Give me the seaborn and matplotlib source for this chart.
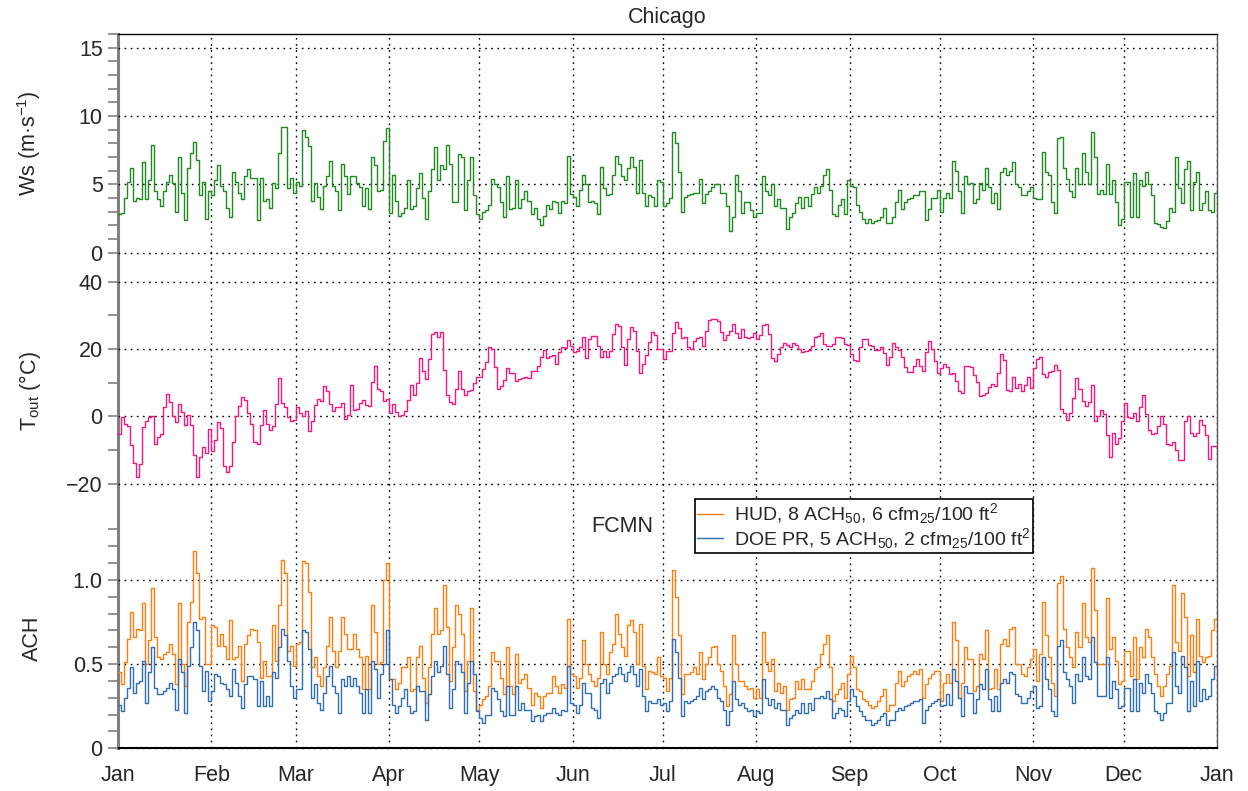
import numpy as np
import seaborn as sns
import matplotlib.pyplot as plt
from matplotlib.ticker import MultipleLocator, FuncFormatter

# --- DATA (daily values, Jan 1 .. Dec 31) ---
month_labels = ['Jan', 'Feb', 'Mar', 'Apr', 'May', 'Jun', 'Jul', 'Aug', 'Sep', 'Oct', 'Nov', 'Dec', 'Jan']
month_starts = [0, 31, 59, 90, 120, 151, 181, 212, 243, 273, 304, 334, 365]

# wind speed, m/s
ws = [
    2.8, 2.9, 4.0, 5.2, 6.2, 3.8, 4.0, 3.9, 6.6, 3.9, 5.3, 7.9, 4.5, 3.9, 3.4, 4.5, 5.2, 5.7, 5.1, 3.0, 7.0, 4.4, 2.4, 6.2, 7.3, 8.1, 6.8, 4.2, 5.2, 2.5, 4.5,
    4.2, 5.3, 6.4, 4.9, 4.5, 3.3, 2.6, 5.9, 5.2, 4.4, 3.9, 5.6, 6.1, 5.5, 5.5, 2.4, 5.5, 3.8, 3.9, 3.3, 5.1, 4.7, 7.3, 9.2, 9.2, 4.7, 5.5, 4.4,
    5.2, 4.9, 9.0, 8.5, 7.8, 3.8, 5.1, 4.1, 3.2, 4.9, 5.6, 6.7, 4.9, 4.5, 3.1, 6.5, 5.6, 4.3, 5.6, 5.6, 5.1, 4.8, 3.4, 4.7, 3.2, 7.0, 6.4, 4.5, 4.6, 8.2, 9.1,
    2.9, 5.7, 3.8, 2.7, 2.9, 3.3, 5.3, 3.2, 3.4, 4.7, 5.8, 4.0, 2.5, 4.5, 6.1, 7.7, 5.3, 6.4, 6.1, 7.9, 6.5, 3.7, 3.7, 7.2, 7.0, 3.1, 5.3, 7.0, 4.2, 2.8,
    2.5, 3.0, 3.1, 3.5, 5.4, 5.0, 4.8, 3.7, 2.6, 5.6, 3.2, 3.3, 5.3, 3.3, 3.9, 4.5, 3.8, 2.8, 3.3, 2.5, 2.0, 2.7, 3.5, 3.2, 3.8, 3.7, 2.9, 3.8, 3.6, 7.1, 4.3,
    4.1, 3.4, 4.6, 5.7, 5.0, 3.7, 3.8, 3.6, 2.8, 6.3, 4.7, 4.2, 4.3, 5.7, 7.1, 6.5, 5.6, 5.3, 6.2, 7.0, 6.3, 4.4, 6.8, 4.4, 3.4, 4.2, 4.1, 3.4, 5.3, 5.2,
    3.4, 3.6, 4.0, 8.8, 8.0, 5.9, 3.0, 4.1, 4.2, 4.3, 4.4, 4.4, 5.4, 3.6, 4.3, 4.5, 4.8, 5.0, 5.0, 4.4, 4.4, 3.4, 1.6, 2.6, 5.7, 4.5, 2.9, 3.7, 3.7, 3.1, 2.6,
    2.9, 2.9, 5.6, 4.5, 4.2, 5.0, 3.4, 3.9, 3.3, 3.3, 1.7, 2.6, 2.9, 3.6, 4.1, 3.3, 4.1, 3.4, 4.3, 4.8, 4.4, 4.9, 5.7, 6.1, 4.6, 2.8, 2.7, 3.5, 3.9, 2.8, 5.3,
    4.9, 4.8, 3.5, 3.0, 2.5, 2.2, 2.5, 2.2, 2.3, 2.4, 2.6, 3.3, 2.2, 2.2, 2.6, 3.7, 4.6, 3.2, 3.7, 3.9, 4.0, 4.2, 4.2, 4.5, 4.5, 2.4, 3.2, 4.0, 4.0, 4.6,
    3.0, 4.0, 4.4, 4.0, 6.7, 6.0, 4.5, 2.9, 5.6, 5.0, 5.1, 3.6, 3.9, 5.1, 4.6, 6.2, 4.8, 3.6, 4.4, 3.2, 5.9, 6.2, 5.7, 6.0, 6.6, 5.0, 4.8, 4.2, 4.2, 4.5, 4.8,
    4.0, 3.9, 3.9, 7.4, 5.9, 5.7, 3.7, 2.9, 8.4, 8.5, 6.2, 5.4, 4.5, 4.1, 6.2, 5.0, 7.3, 5.9, 5.0, 8.8, 7.0, 4.3, 4.6, 4.3, 6.5, 4.3, 5.3, 3.7, 2.0, 2.5,
    5.2, 5.2, 2.6, 5.8, 2.6, 5.3, 4.9, 5.9, 5.0, 4.2, 2.2, 2.1, 1.9, 1.8, 2.3, 3.3, 3.0, 7.0, 4.7, 3.6, 6.1, 6.7, 3.1, 5.2, 5.9, 3.1, 3.6, 4.5, 3.1, 3.0, 4.4,
]

# outdoor temperature, deg C
t_out = [
    -5.3, -0.2, -2.4, -2.9, -8.5, -14.0, -17.9, -14.3, -3.1, -1.5, -0.1, 0.2, -8.2, -6.0, -5.3, 2.7, 6.6, 4.4, 0.2, -1.6, 3.7, 1.2, -2.6, 0.5, -2.6, -11.5, -18.1, -12.2, -9.2, -10.9, -3.9,
    -10.3, -7.0, -1.7, -3.4, -14.7, -16.6, -14.7, -7.6, 0.1, 3.0, 5.8, 4.8, 1.1, -2.4, -7.5, -8.1, -2.5, 1.8, -2.3, -4.2, -2.9, 3.7, 11.3, 4.1, 2.7, -0.3, -1.3, -1.1,
    2.9, 0.9, 0.2, 1.7, -4.3, -1.5, 3.4, 5.3, 4.6, 9.0, 7.5, 3.6, 1.6, 2.8, 2.9, 3.9, -0.8, 0.5, 9.2, 1.9, 2.1, 3.9, 5.0, 3.4, 3.2, 10.1, 15.0, 8.2, 7.6, 4.6, 5.3,
    0.9, 3.7, 1.2, 0.1, 0.3, 1.7, 5.0, 9.4, 6.2, 10.0, 17.4, 13.5, 11.0, 17.0, 24.4, 25.1, 23.6, 25.1, 13.9, 6.3, 4.4, 3.8, 8.0, 13.6, 8.0, 6.3, 7.6, 7.8, 10.0, 11.8,
    11.8, 14.2, 16.0, 20.7, 20.1, 14.8, 8.2, 8.9, 10.8, 14.3, 12.9, 12.8, 10.5, 11.0, 11.5, 11.6, 11.5, 13.5, 13.6, 15.0, 17.7, 19.6, 17.4, 17.9, 18.3, 15.5, 19.0, 20.7, 20.3, 22.7, 20.9,
    19.2, 19.4, 20.5, 23.7, 17.3, 22.9, 23.9, 23.8, 20.9, 17.6, 19.3, 17.5, 19.3, 24.4, 27.3, 26.9, 20.7, 15.2, 22.9, 26.6, 25.5, 19.4, 12.8, 15.5, 18.2, 22.2, 25.0, 24.3, 20.0, 20.0,
    16.9, 19.3, 19.3, 24.9, 28.1, 26.3, 23.4, 23.6, 20.6, 20.1, 22.5, 23.2, 23.7, 21.0, 25.5, 28.7, 29.0, 29.0, 28.4, 25.2, 22.6, 24.3, 25.4, 27.3, 24.7, 23.2, 25.8, 23.7, 23.3, 23.7, 24.9,
    22.9, 24.1, 27.0, 27.3, 24.4, 17.2, 16.5, 18.4, 20.7, 21.7, 21.2, 20.5, 21.7, 21.2, 20.1, 19.2, 19.4, 19.7, 21.0, 23.5, 23.9, 24.7, 21.5, 21.0, 21.0, 21.5, 23.7, 23.7, 23.4, 21.5, 21.2,
    18.5, 16.6, 16.4, 20.5, 23.0, 23.1, 21.1, 21.0, 19.6, 19.6, 20.7, 18.9, 15.3, 17.7, 21.9, 20.7, 19.7, 17.5, 14.8, 13.2, 13.2, 15.0, 16.9, 14.9, 13.6, 19.0, 22.3, 19.9, 16.5, 13.0,
    14.3, 15.5, 14.8, 12.5, 12.8, 10.5, 7.5, 7.0, 15.0, 15.0, 14.6, 12.3, 10.1, 6.0, 6.4, 7.0, 8.6, 9.6, 9.1, 13.0, 18.4, 16.7, 7.7, 7.4, 11.6, 8.3, 9.6, 7.6, 9.4, 11.8, 8.4,
    14.5, 16.9, 17.5, 12.6, 11.8, 13.1, 13.4, 15.2, 13.8, 2.1, 0.9, -1.1, 1.1, 5.5, 11.5, 8.0, 4.6, 3.2, 4.4, 9.4, -1.4, 0.1, 1.9, 0.7, -5.6, -12.0, -5.0, -8.1, -6.3, -1.3,
    3.9, -0.3, -0.6, 0.9, -1.3, 2.9, 6.4, 0.6, -4.1, -5.2, -4.8, -2.8, 0.1, -2.3, -8.2, -8.5, -7.5, -10.0, -13.0, -13.0, -1.4, 0.0, -5.0, -5.7, -4.8, -1.1, -2.6, -5.5, -12.8, -8.7, -8.7,
]

# air changes per hour, HUD envelope
ach_hud = [
    0.45, 0.38, 0.51, 0.65, 0.81, 0.66, 0.71, 0.70, 0.86, 0.50, 0.64, 0.95, 0.66, 0.54, 0.53, 0.56, 0.57, 0.62, 0.56, 0.38, 0.86, 0.50, 0.37, 0.75, 0.87, 1.17, 1.04, 0.77, 0.78, 0.50, 0.50,
    0.73, 0.72, 0.61, 0.68, 0.61, 0.53, 0.76, 0.53, 0.54, 0.61, 0.40, 0.62, 0.67, 0.71, 0.70, 0.63, 0.42, 0.52, 0.43, 0.43, 0.73, 0.52, 0.85, 1.12, 1.04, 0.58, 0.61, 0.49,
    0.62, 0.63, 1.11, 1.10, 0.93, 0.48, 0.54, 0.43, 0.37, 0.48, 0.61, 0.78, 0.58, 0.48, 0.58, 0.78, 0.68, 0.59, 0.59, 0.68, 0.59, 0.54, 0.35, 0.55, 0.35, 0.85, 0.69, 0.50, 0.51, 1.00, 1.10,
    0.41, 0.41, 0.35, 0.39, 0.48, 0.48, 0.54, 0.34, 0.35, 0.54, 0.61, 0.42, 0.27, 0.48, 0.68, 0.83, 0.68, 0.70, 0.97, 0.72, 0.40, 0.60, 0.85, 0.80, 0.68, 0.34, 0.52, 0.83, 0.34, 0.23,
    0.26, 0.29, 0.31, 0.37, 0.57, 0.52, 0.52, 0.42, 0.32, 0.60, 0.37, 0.32, 0.56, 0.39, 0.41, 0.44, 0.36, 0.26, 0.33, 0.31, 0.24, 0.31, 0.33, 0.33, 0.43, 0.37, 0.33, 0.38, 0.36, 0.77, 0.44,
    0.43, 0.36, 0.42, 0.64, 0.50, 0.44, 0.40, 0.37, 0.42, 0.69, 0.50, 0.44, 0.57, 0.62, 0.80, 0.68, 0.60, 0.55, 0.73, 0.76, 0.69, 0.50, 0.74, 0.49, 0.35, 0.46, 0.45, 0.44, 0.54, 0.43,
    0.42, 0.34, 0.42, 1.06, 0.90, 0.67, 0.32, 0.44, 0.44, 0.45, 0.48, 0.44, 0.57, 0.41, 0.50, 0.54, 0.60, 0.61, 0.50, 0.46, 0.37, 0.25, 0.32, 0.67, 0.50, 0.40, 0.40, 0.37, 0.35, 0.36, 0.30,
    0.35, 0.30, 0.69, 0.51, 0.46, 0.53, 0.34, 0.39, 0.33, 0.37, 0.23, 0.29, 0.30, 0.40, 0.35, 0.41, 0.35, 0.35, 0.40, 0.47, 0.48, 0.56, 0.62, 0.67, 0.48, 0.28, 0.32, 0.35, 0.39, 0.30, 0.44,
    0.55, 0.48, 0.35, 0.34, 0.29, 0.28, 0.26, 0.24, 0.25, 0.28, 0.31, 0.35, 0.22, 0.26, 0.26, 0.39, 0.46, 0.37, 0.40, 0.43, 0.44, 0.46, 0.44, 0.47, 0.30, 0.38, 0.42, 0.44, 0.46, 0.46,
    0.28, 0.39, 0.44, 0.39, 0.75, 0.64, 0.30, 0.39, 0.60, 0.53, 0.53, 0.34, 0.37, 0.56, 0.53, 0.70, 0.35, 0.36, 0.47, 0.35, 0.62, 0.65, 0.61, 0.71, 0.72, 0.50, 0.50, 0.44, 0.43, 0.48, 0.53,
    0.59, 0.40, 0.56, 0.87, 0.67, 0.54, 0.39, 0.31, 0.98, 1.02, 0.71, 0.60, 0.54, 0.48, 0.69, 0.60, 0.86, 0.66, 0.63, 1.07, 0.82, 0.50, 0.50, 0.50, 0.89, 0.59, 0.66, 0.52, 0.38, 0.40,
    0.58, 0.58, 0.43, 0.66, 0.41, 0.60, 0.54, 0.71, 0.66, 0.54, 0.44, 0.37, 0.31, 0.37, 0.44, 0.49, 0.97, 0.63, 0.58, 0.92, 0.78, 0.43, 0.67, 0.45, 0.77, 0.55, 0.51, 0.54, 0.55, 0.70, 0.77,
]

# air changes per hour, DOE passive envelope
ach_doe = [
    0.26, 0.22, 0.30, 0.36, 0.48, 0.33, 0.39, 0.40, 0.52, 0.27, 0.45, 0.60, 0.36, 0.32, 0.32, 0.34, 0.36, 0.39, 0.35, 0.23, 0.53, 0.45, 0.21, 0.49, 0.60, 0.75, 0.70, 0.49, 0.34, 0.46, 0.28,
    0.34, 0.44, 0.43, 0.39, 0.38, 0.35, 0.31, 0.47, 0.39, 0.31, 0.24, 0.38, 0.43, 0.43, 0.41, 0.25, 0.40, 0.25, 0.31, 0.25, 0.45, 0.42, 0.60, 0.71, 0.67, 0.52, 0.37, 0.30,
    0.35, 0.35, 0.70, 0.69, 0.59, 0.30, 0.38, 0.27, 0.23, 0.33, 0.43, 0.49, 0.37, 0.33, 0.21, 0.41, 0.37, 0.43, 0.37, 0.42, 0.37, 0.33, 0.21, 0.35, 0.21, 0.52, 0.47, 0.30, 0.44, 0.50, 0.70,
    0.41, 0.26, 0.21, 0.25, 0.30, 0.35, 0.25, 0.21, 0.22, 0.37, 0.34, 0.34, 0.17, 0.32, 0.43, 0.52, 0.45, 0.49, 0.61, 0.44, 0.24, 0.35, 0.52, 0.50, 0.45, 0.21, 0.39, 0.52, 0.44, 0.22,
    0.18, 0.15, 0.20, 0.20, 0.36, 0.34, 0.29, 0.22, 0.19, 0.37, 0.20, 0.20, 0.37, 0.23, 0.27, 0.23, 0.23, 0.16, 0.19, 0.20, 0.16, 0.20, 0.21, 0.21, 0.24, 0.21, 0.20, 0.23, 0.22, 0.49, 0.27,
    0.26, 0.21, 0.26, 0.39, 0.33, 0.33, 0.24, 0.23, 0.18, 0.39, 0.41, 0.33, 0.39, 0.43, 0.44, 0.48, 0.44, 0.40, 0.45, 0.49, 0.44, 0.37, 0.47, 0.31, 0.22, 0.28, 0.27, 0.27, 0.29, 0.26,
    0.27, 0.22, 0.28, 0.65, 0.57, 0.42, 0.19, 0.28, 0.27, 0.28, 0.29, 0.31, 0.36, 0.29, 0.34, 0.35, 0.37, 0.35, 0.30, 0.28, 0.23, 0.14, 0.22, 0.40, 0.29, 0.26, 0.27, 0.24, 0.22, 0.23, 0.19,
    0.22, 0.21, 0.41, 0.30, 0.26, 0.29, 0.24, 0.27, 0.23, 0.23, 0.14, 0.18, 0.20, 0.23, 0.21, 0.27, 0.21, 0.27, 0.23, 0.30, 0.30, 0.31, 0.30, 0.34, 0.29, 0.18, 0.21, 0.24, 0.23, 0.19, 0.28,
    0.35, 0.31, 0.25, 0.22, 0.19, 0.17, 0.17, 0.14, 0.15, 0.17, 0.19, 0.21, 0.14, 0.17, 0.17, 0.22, 0.24, 0.23, 0.25, 0.26, 0.27, 0.28, 0.28, 0.29, 0.15, 0.23, 0.25, 0.27, 0.28, 0.29,
    0.25, 0.26, 0.32, 0.26, 0.47, 0.40, 0.30, 0.19, 0.37, 0.33, 0.33, 0.21, 0.29, 0.38, 0.35, 0.47, 0.29, 0.22, 0.31, 0.22, 0.39, 0.41, 0.39, 0.45, 0.44, 0.32, 0.31, 0.27, 0.27, 0.30, 0.34,
    0.37, 0.24, 0.25, 0.54, 0.41, 0.35, 0.22, 0.19, 0.61, 0.64, 0.45, 0.41, 0.37, 0.27, 0.44, 0.40, 0.54, 0.43, 0.41, 0.66, 0.51, 0.31, 0.31, 0.31, 0.54, 0.30, 0.40, 0.35, 0.24, 0.25,
    0.36, 0.36, 0.22, 0.41, 0.22, 0.39, 0.33, 0.44, 0.39, 0.33, 0.22, 0.21, 0.17, 0.21, 0.27, 0.27, 0.57, 0.37, 0.33, 0.55, 0.48, 0.22, 0.40, 0.25, 0.52, 0.28, 0.35, 0.29, 0.31, 0.41, 0.49,
]

hud_label = 'HUD, 8 ACH$_{\\mathrm{50}}$, 6 cfm$_{\\mathrm{25}}$/100 ft$^{\\mathrm{2}}$'
doe_label = 'DOE PR, 5 ACH$_{\\mathrm{50}}$, 2 cfm$_{\\mathrm{25}}$/100 ft$^{\\mathrm{2}}$'

# --- STYLE ---
sns.set_style("white")
plt.rcParams['font.family'] = ['Liberation Sans', 'DejaVu Sans']
plt.rcParams['mathtext.fontset'] = 'custom'
plt.rcParams['mathtext.rm'] = 'Liberation Sans'
plt.rcParams['mathtext.it'] = 'Liberation Sans:italic'
plt.rcParams['mathtext.bf'] = 'Liberation Sans:bold'

FS = 15.5
GRAY = '#808080'
DOTS = (0, (1.2, 3.2))


def steps(vals):
    # extend the last day so the step reaches Jan 1 of the next year
    x = np.arange(len(vals) + 1)
    y = np.append(vals, vals[-1])
    return x, y


fig = plt.figure(figsize=(12.48, 7.91), dpi=100)
W, H = 1248.0, 791.0
left = 118 / W
width = (1217 - 118) / W


def px_axes(top_px, bottom_px, **kw):
    return fig.add_axes([left, 1 - bottom_px / H, width, (bottom_px - top_px) / H], **kw)


# frame axes: month grid, bottom month labels, outer box
frame = px_axes(34, 748.3)
frame.set_xlim(0, 365)
frame.set_ylim(0, 1)
frame.set_yticks([])
frame.set_xticks(month_starts)
frame.set_xticklabels(month_labels)
frame.tick_params(axis='x', direction='out', length=8, width=1.3, color='black',
                  labelsize=FS, pad=4)
frame.grid(axis='x', color='black', linestyle=DOTS, linewidth=1.0)
frame.spines['left'].set_color(GRAY)
frame.spines['left'].set_linewidth(2.2)
frame.spines['right'].set_color('#555555')
frame.spines['right'].set_linewidth(1.0)
frame.spines['top'].set_color('black')
frame.spines['top'].set_linewidth(1.0)
frame.spines['bottom'].set_color('black')
frame.spines['bottom'].set_linewidth(1.5)

ax_ws = px_axes(34, 252.7)
ax_t = px_axes(281.7, 500.5)
ax_ach = px_axes(529.3, 748.3)

for ax in (ax_ws, ax_t, ax_ach):
    ax.set_facecolor('none')
    ax.set_xlim(0, 365)
    for s in ax.spines.values():
        s.set_visible(False)
    ax.tick_params(axis='x', bottom=False, labelbottom=False)
    ax.tick_params(axis='y', which='both', direction='out', length=7, width=1.2,
                   color=GRAY, labelsize=FS, pad=4, left=True)
    ax.grid(axis='y', which='major', color='black', linestyle=DOTS, linewidth=1.0)
    ax.grid(axis='x', visible=False)

# --- PANEL 1: wind speed ---
x, y = steps(ws)
sns.lineplot(x=x, y=y, ax=ax_ws, color='#1f8a1f', linewidth=1.0, drawstyle='steps-post')
ax_ws.set_ylim(0, 16)
ax_ws.yaxis.set_major_locator(MultipleLocator(5))
ax_ws.yaxis.set_minor_locator(MultipleLocator(1))
ax_ws.set_ylabel('Ws (m·s$^{\\mathrm{-1}}$)', fontsize=FS)

# --- PANEL 2: outdoor temperature ---
x, y = steps(t_out)
sns.lineplot(x=x, y=y, ax=ax_t, color='#f5167f', linewidth=1.0, drawstyle='steps-post')
ax_t.set_ylim(-25, 40)
ax_t.yaxis.set_major_locator(MultipleLocator(20))
ax_t.yaxis.set_minor_locator(MultipleLocator(10))
ax_t.set_ylabel('T$_{\\mathrm{out}}$ (°C)', fontsize=FS)

# --- PANEL 3: air changes ---
x, y = steps(ach_hud)
sns.lineplot(x=x, y=y, ax=ax_ach, color='#ff7f0e', linewidth=1.0, drawstyle='steps-post',
             label=hud_label, legend=False)
x, y = steps(ach_doe)
sns.lineplot(x=x, y=y, ax=ax_ach, color='#2f6db5', linewidth=1.0, drawstyle='steps-post',
             label=doe_label, legend=False)
ax_ach.set_ylim(0, 1.3)
ax_ach.yaxis.set_major_locator(MultipleLocator(0.5))
ax_ach.yaxis.set_minor_locator(MultipleLocator(0.1))
ax_ach.yaxis.set_major_formatter(FuncFormatter(lambda v, p: '0' if v == 0 else f'{v:.1f}'))
ax_ach.set_ylabel('ACH', fontsize=FS)

for ax in (ax_ws, ax_t, ax_ach):
    ax.set_xlabel('')
    ax.yaxis.set_label_coords((43 - 118) / (1217 - 118), 0.5)
    # keep the dotted lines that sit right on the panel edges visible
    for gl in ax.get_ygridlines():
        gl.set_clip_on(False)

leg = ax_ach.legend(handles=ax_ach.lines[:2], labels=[hud_label, doe_label],
                    loc='upper left', bbox_to_anchor=(695 / W, 1 - 499 / H),
                    bbox_transform=fig.transFigure, borderaxespad=0,
                    fontsize=14, frameon=True, fancybox=False, framealpha=1,
                    edgecolor='black', handlelength=1.3, handletextpad=0.6,
                    borderpad=0.12, labelspacing=0.0)
leg.get_frame().set_linewidth(1.2)

fig.text(667.5 / W, 1 - 18 / H, 'Chicago', ha='center', va='center', fontsize=FS)
fig.text(622 / W, 1 - 527 / H, 'FCMN', ha='center', va='center', fontsize=FS)

fig.savefig('out.png', dpi=100, facecolor='white')
